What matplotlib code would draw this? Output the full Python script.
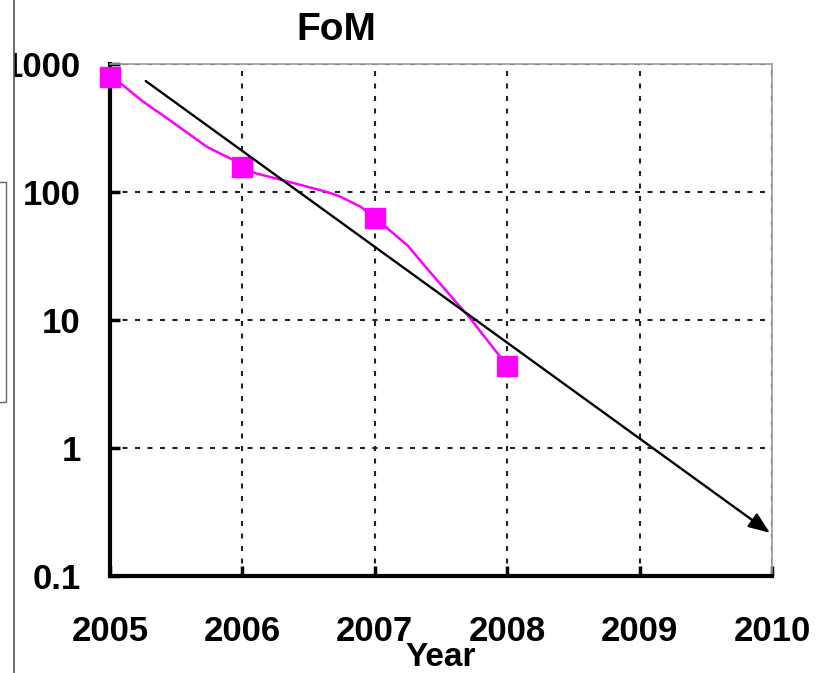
import matplotlib
matplotlib.use('Agg')
import matplotlib.pyplot as plt
from matplotlib.lines import Line2D
from matplotlib.patches import Rectangle

plt.rcParams['font.family'] = ['Liberation Sans', 'DejaVu Sans']
plt.rcParams['font.weight'] = 'bold'

# yearly FoM values (square markers)
years = [2005, 2006, 2007, 2008]
fom = [790, 157, 63, 4.4]

# smoothed magenta curve through the points
curve_year = [2005.0, 2005.08, 2005.25, 2005.45, 2005.73, 2005.93, 2006.0,
              2006.1, 2006.3, 2006.64, 2006.74, 2006.89, 2007.0,
              2007.25, 2007.37, 2007.49, 2007.72, 2008.0]
curve_fom = [790, 706, 508, 365, 226, 178, 157,
             140, 124, 100, 92, 77, 63,
             38, 27, 19.4, 10.3, 4.4]

# trend arrow
trend_start = (2005.27, 736)
trend_end = (2009.985, 0.217)

xticks = [2005, 2006, 2007, 2008, 2009, 2010]
yticks = [0.1, 1, 10, 100, 1000]
ytick_labels = ['0.1', '1', '10', '100', '1000']

W, H = 822, 673
fig = plt.figure(figsize=(W / 100, H / 100), dpi=100)
ax = fig.add_axes([110 / W, 1 - 576 / H, 662 / W, 512 / H])

ax.set_yscale('log')
ax.set_xlim(2005, 2010)
ax.set_ylim(0.1, 1000)

ax.plot(curve_year, curve_fom, color='#ff00ff', lw=1.8, zorder=3, clip_on=False)
ax.plot(years, fom, 's', color='#ff00ff', ms=14.5, zorder=4, clip_on=False)

ax.annotate('', xy=trend_end, xytext=trend_start,
            arrowprops=dict(arrowstyle='-|>,head_length=0.65,head_width=0.25',
                            color='black', lw=1.7, mutation_scale=20,
                            shrinkA=0, shrinkB=0), zorder=5)

ax.set_xticks(xticks)
ax.set_xticklabels([str(y) for y in xticks])
ax.set_yticks(yticks)
ax.set_yticklabels(ytick_labels)
ax.yaxis.set_minor_locator(matplotlib.ticker.NullLocator())

ax.tick_params(axis='x', direction='in', length=7, width=2.5, pad=28, labelsize=25,
               colors='black')
ax.tick_params(axis='y', direction='in', length=7, width=2.5, pad=21, labelsize=25,
               colors='black')
for lab in ax.get_xticklabels() + ax.get_yticklabels():
    lab.set_fontweight('bold')

ax.grid(True, which='major', color='#222222', lw=1.5, linestyle=(0, (2.4, 3.6)))
ax.set_axisbelow(True)

ax.spines['left'].set_linewidth(3)
ax.spines['bottom'].set_linewidth(3)
ax.spines['top'].set_color('#999999')
ax.spines['right'].set_color('#999999')
ax.spines['top'].set_linewidth(1.2)
ax.spines['right'].set_linewidth(1.2)

ax.set_xlabel('Year', fontsize=24, fontweight='bold', labelpad=-4)
fig.text(336 / W, 1 - 40 / H, 'FoM', ha='center', va='baseline',
         fontsize=28, fontweight='bold')

# leftover edges of the neighbouring panel
fig.add_artist(Rectangle((0, 0), 14 / W, 1, transform=fig.transFigure,
                         facecolor='white', edgecolor='none', zorder=10))
fig.add_artist(Line2D([14 / W, 14 / W], [0, 1], transform=fig.transFigure,
                      color='#555555', lw=1.2, zorder=11))
fig.add_artist(Line2D([0, 6 / W, 6 / W, 0],
                      [1 - 182 / H, 1 - 182 / H, 1 - 402 / H, 1 - 402 / H],
                      transform=fig.transFigure, color='#666666', lw=1, zorder=11))

fig.savefig('out.png', dpi=100)
